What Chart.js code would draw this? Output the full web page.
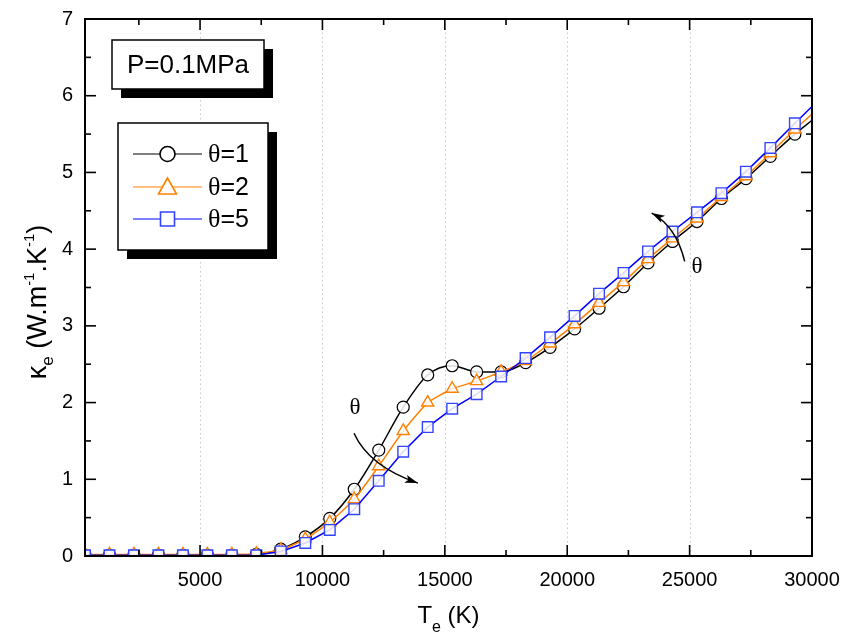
<!DOCTYPE html>
<html lang="en">
<head>
  <meta charset="UTF-8" />
  <title>Electron thermal conductivity</title>
  <script src="https://cdn.jsdelivr.net/npm/chart.js"></script>
  <style>
    html, body { margin: 0; padding: 0; background: #fff; }
    #wrap { width: 842px; height: 638px; }
  </style>
</head>
<body>
  <div id="wrap"><canvas id="kappaChart" width="842" height="638"></canvas></div>

  <script>
    // electron temperature (K)
    const temps = [300, 1300, 2300, 3300, 4300, 5300, 6300, 7300, 8300, 9300,
      10300, 11300, 12300, 13300, 14300, 15300, 16300, 17300, 18300, 19300,
      20300, 21300, 22300, 23300, 24300, 25300, 26300, 27300, 28300, 29300, 30000];

    // kappa_e (W/m/K) for each theta
    const theta1 = [0.01, 0.01, 0.01, 0.01, 0.01, 0.01, 0.01, 0.02, 0.09, 0.25,
      0.49, 0.87, 1.38, 1.94, 2.36, 2.48, 2.40, 2.40, 2.52, 2.72,
      2.96, 3.23, 3.51, 3.82, 4.10, 4.36, 4.66, 4.92, 5.21, 5.50, 5.68];
    const theta2 = [0.02, 0.02, 0.02, 0.02, 0.02, 0.02, 0.02, 0.03, 0.08, 0.22,
      0.44, 0.74, 1.17, 1.63, 2.00, 2.18, 2.28, 2.40, 2.54, 2.77,
      3.02, 3.30, 3.57, 3.87, 4.14, 4.40, 4.68, 4.95, 5.25, 5.56, 5.76];
    const theta5 = [0.01, 0.01, 0.01, 0.01, 0.01, 0.01, 0.01, 0.01, 0.06, 0.17,
      0.34, 0.61, 0.98, 1.36, 1.68, 1.92, 2.11, 2.34, 2.58, 2.85,
      3.13, 3.42, 3.69, 3.97, 4.23, 4.48, 4.73, 5.01, 5.32, 5.64, 5.86];

    const seriesLabels = ['\u03b8=1', '\u03b8=2', '\u03b8=5'];
    const xTicks = [5000, 10000, 15000, 20000, 25000, 30000];
    const xMinorTicks = [2500, 7500, 12500, 17500, 22500, 27500];
    const yTicks = [0, 1, 2, 3, 4, 5, 6, 7];
    const yMinorTicks = [0.5, 1.5, 2.5, 3.5, 4.5, 5.5, 6.5];

    const SANS = "'Liberation Sans', Arial, sans-serif";
    const SERIF = "'Liberation Serif', 'Times New Roman', serif";

    // no marker on the closing point at 30000 K
    const radii = r => temps.map(t => t === 30000 ? 0 : r);

    function pts(vals) {
      return temps.map((t, i) => ({ x: t, y: vals[i] }));
    }

    const datasets = [
      {
        label: seriesLabels[0], data: pts(theta1), order: 2,
        borderColor: '#000', borderWidth: 1.5, pointStyle: 'circle',
        pointRadius: radii(6), pointBorderWidth: 1.2,
        pointBackgroundColor: 'rgba(255,255,255,0.85)', pointBorderColor: '#000',
        cubicInterpolationMode: 'monotone'
      },
      {
        label: seriesLabels[1], data: pts(theta2), order: 1,
        borderColor: '#ff8000', borderWidth: 1.5, pointStyle: 'triangle',
        pointRadius: radii(7), pointBorderWidth: 1.4,
        pointBackgroundColor: 'rgba(255,255,255,0.85)', pointBorderColor: '#ff8000',
        tension: 0.15
      },
      {
        label: seriesLabels[2], data: pts(theta5), order: 0,
        borderColor: '#0000ff', borderWidth: 1.5, pointStyle: 'rect',
        pointRadius: radii(7.5), pointBorderWidth: 1.4,
        pointBackgroundColor: 'rgba(255,255,255,0.85)', pointBorderColor: '#3344ff',
        tension: 0
      }
    ];

    function curvedArrow(ctx, x0, y0, cx, cy, x1, y1) {
      ctx.beginPath();
      ctx.moveTo(x0, y0);
      ctx.quadraticCurveTo(cx, cy, x1, y1);
      ctx.stroke();
      const ang = Math.atan2(y1 - cy, x1 - cx);
      ctx.beginPath();
      ctx.moveTo(x1, y1);
      ctx.lineTo(x1 - 13 * Math.cos(ang) + 4 * Math.sin(ang), y1 - 13 * Math.sin(ang) - 4 * Math.cos(ang));
      ctx.lineTo(x1 - 10 * Math.cos(ang), y1 - 10 * Math.sin(ang));
      ctx.lineTo(x1 - 13 * Math.cos(ang) - 4 * Math.sin(ang), y1 - 13 * Math.sin(ang) + 4 * Math.cos(ang));
      ctx.closePath();
      ctx.fill();
    }

    function shadowBox(ctx, x, y, w, h, off) {
      ctx.fillStyle = '#000';
      ctx.fillRect(x + off, y + off, w, h);
      ctx.fillStyle = '#fff';
      ctx.fillRect(x, y, w, h);
      ctx.strokeStyle = '#000';
      ctx.lineWidth = 1.5;
      ctx.strokeRect(x, y, w, h);
    }

    // draw a run of [text, dy, size, font] pieces left to right
    function runText(ctx, parts, x, y) {
      let cx = x;
      parts.forEach(([t, dy, size, font]) => {
        ctx.font = size + 'px ' + (font || SANS);
        ctx.fillText(t, cx, y + dy);
        cx += ctx.measureText(t).width;
      });
      return cx;
    }
    function runWidth(ctx, parts) {
      let w = 0;
      parts.forEach(([t, dy, size, font]) => {
        ctx.font = size + 'px ' + (font || SANS);
        w += ctx.measureText(t).width;
      });
      return w;
    }

    const decorPlugin = {
      id: 'decor',
      beforeDatasetsDraw(chart) {
        const { ctx, chartArea: a, scales: { x } } = chart;
        ctx.save();
        ctx.strokeStyle = '#c8c8c8';
        ctx.lineWidth = 1;
        ctx.setLineDash([1.5, 3]);
        xTicks.slice(0, -1).forEach(v => {
          const px = Math.round(x.getPixelForValue(v)) + 0.5;
          ctx.beginPath(); ctx.moveTo(px, a.top); ctx.lineTo(px, a.bottom); ctx.stroke();
        });
        ctx.restore();
      },
      afterDraw(chart) {
        const { ctx, chartArea: a, scales: { x, y } } = chart;
        ctx.save();

        // frame
        ctx.strokeStyle = '#000';
        ctx.lineWidth = 2;
        ctx.strokeRect(a.left, a.top, a.right - a.left, a.bottom - a.top);

        // inward ticks on all four sides
        ctx.lineWidth = 1.6;
        const tick = (x0, y0, x1, y1) => { ctx.beginPath(); ctx.moveTo(x0, y0); ctx.lineTo(x1, y1); ctx.stroke(); };
        [[xTicks, 11], [xMinorTicks, 6]].forEach(([list, len]) => list.forEach(v => {
          const px = x.getPixelForValue(v);
          tick(px, a.bottom, px, a.bottom - len);
          tick(px, a.top, px, a.top + len);
        }));
        [[yTicks, 11], [yMinorTicks, 6]].forEach(([list, len]) => list.forEach(v => {
          const py = y.getPixelForValue(v);
          tick(a.left, py, a.left + len, py);
          tick(a.right, py, a.right - len, py);
        }));

        // theta arrows
        ctx.strokeStyle = '#000';
        ctx.fillStyle = '#000';
        ctx.lineWidth = 1.5;
        const P = (tx, ky) => [x.getPixelForValue(tx), y.getPixelForValue(ky)];
        curvedArrow(ctx, ...P(11290, 1.60), ...P(11900, 1.17), ...P(13900, 0.95));
        curvedArrow(ctx, ...P(24800, 3.84), ...P(24450, 4.30), ...P(23450, 4.47));
        ctx.font = '23px ' + SERIF;
        ctx.textAlign = 'center';
        ctx.textBaseline = 'middle';
        ctx.fillText('\u03b8', ...P(11330, 1.93));
        ctx.fillText('\u03b8', ...P(25300, 3.77));

        // pressure box
        shadowBox(ctx, 112, 40, 152, 49, 9);
        ctx.fillStyle = '#000';
        ctx.font = '26px ' + SANS;
        ctx.textAlign = 'center';
        ctx.textBaseline = 'alphabetic';
        ctx.fillText('P=0.1MPa', 188, 73);

        // legend box
        shadowBox(ctx, 118, 123, 150, 127, 9);
        const rows = [154, 187, 219];
        datasets.forEach((ds, i) => {
          const ry = rows[i];
          ctx.strokeStyle = ds.borderColor;
          ctx.lineWidth = 1.2;
          tick(133, ry, 202, ry);
          ctx.fillStyle = '#fff';
          ctx.strokeStyle = ds.pointBorderColor;
          ctx.lineWidth = 1.6;
          ctx.beginPath();
          if (ds.pointStyle === 'circle') {
            ctx.arc(167.5, ry, 7.5, 0, Math.PI * 2);
          } else if (ds.pointStyle === 'triangle') {
            ctx.moveTo(167.5, ry - 9); ctx.lineTo(176.5, ry + 7); ctx.lineTo(158.5, ry + 7); ctx.closePath();
          } else {
            ctx.rect(160.5, ry - 7, 14, 14);
          }
          ctx.fill(); ctx.stroke();
          ctx.fillStyle = '#000';
          ctx.textAlign = 'left';
          ctx.textBaseline = 'middle';
          runText(ctx, [['\u03b8', 0, 26, SERIF], ['=' + ds.label.split('=')[1], 0, 25]], 208, ry + 1);
        });

        // axis titles
        ctx.fillStyle = '#000';
        ctx.textBaseline = 'alphabetic';
        ctx.textAlign = 'left';
        const xParts = [['T', 0, 24], ['e', 9, 16], [' (K)', 0, 24]];
        const xw = runWidth(ctx, xParts);
        runText(ctx, xParts, (a.left + a.right) / 2 - xw / 2, 623);

        const yParts = [['\u03ba', 0, 27], ['e', 7, 17], [' (W.m', 0, 27], ['-1', -12, 15],
          ['.K', 0, 27], ['-1', -12, 15], [')', 0, 27]];
        const yw = runWidth(ctx, yParts);
        ctx.translate(46, 302);
        ctx.rotate(-Math.PI / 2);
        runText(ctx, yParts, -yw / 2, 0);
        ctx.restore();
      }
    };

    new Chart(document.getElementById('kappaChart').getContext('2d'), {
      type: 'line',
      data: { datasets: datasets },
      options: {
        responsive: false,
        animation: false,
        layout: { padding: { left: 0, right: 30, top: 19, bottom: 0 } },
        plugins: { legend: { display: false }, tooltip: { enabled: false } },
        scales: {
          x: {
            type: 'linear', min: 300, max: 30000,
            afterBuildTicks: s => { s.ticks = xTicks.map(v => ({ value: v })); },
            afterFit: s => { s.height = 82; s.paddingLeft = 0; s.paddingRight = 0; },
            grid: { display: false, drawTicks: false },
            border: { display: false },
            ticks: { color: '#000', padding: 12, maxRotation: 0, callback: v => String(v),
              font: { family: SANS, size: 20 } }
          },
          y: {
            min: 0, max: 7,
            afterBuildTicks: s => { s.ticks = yTicks.map(v => ({ value: v })); },
            afterFit: s => { s.width = 85; s.paddingTop = 0; s.paddingBottom = 0; },
            grid: { display: false, drawTicks: false },
            border: { display: false },
            ticks: { color: '#000', padding: 12, callback: v => String(v),
              font: { family: SANS, size: 20 } }
          }
        }
      },
      plugins: [decorPlugin]
    });
  </script>
</body>
</html>
